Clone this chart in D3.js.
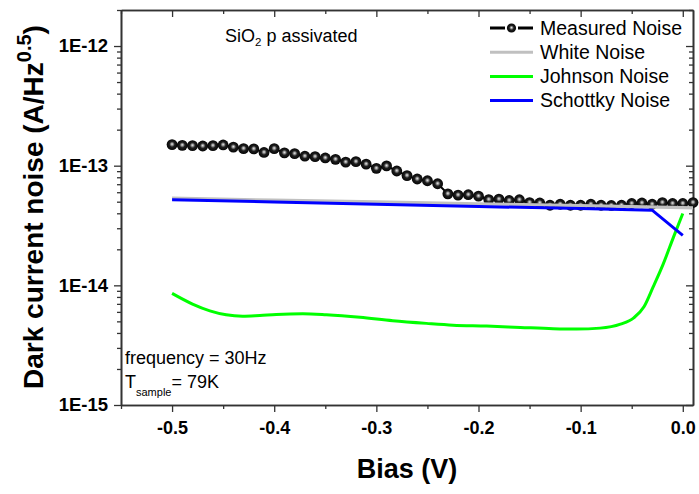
<!DOCTYPE html>
<html><head><meta charset="utf-8">
<script src="https://cdn.jsdelivr.net/npm/d3@7"></script>
<style>body{margin:0;background:#fff}svg{display:block;font-family:"Liberation Sans",Arial,sans-serif}</style>
</head><body>
<svg id="c" width="699" height="494"></svg>
<script>
// ---- data ----
const measuredBias = [-0.50,-0.49,-0.48,-0.47,-0.46,-0.45,-0.44,-0.43,-0.42,-0.41,-0.40,-0.39,-0.38,-0.37,-0.36,-0.35,-0.34,-0.33,-0.32,-0.31,-0.30,-0.29,-0.28,-0.27,-0.26,-0.25,-0.24,-0.23,-0.22,-0.21,-0.20,-0.19,-0.18,-0.17,-0.16,-0.15,-0.14,-0.13,-0.12,-0.11,-0.10,-0.09,-0.08,-0.07,-0.06,-0.05,-0.04,-0.03,-0.02,-0.01,0.00,0.01];
const measuredNoise = [1.50e-13,1.48e-13,1.47e-13,1.46e-13,1.47e-13,1.49e-13,1.43e-13,1.39e-13,1.38e-13,1.29e-13,1.39e-13,1.28e-13,1.26e-13,1.20e-13,1.19e-13,1.16e-13,1.13e-13,1.07e-13,1.08e-13,1.03e-13,9.5e-14,9.95e-14,9.03e-14,8.26e-14,7.74e-14,7.48e-14,7.06e-14,5.82e-14,5.68e-14,5.72e-14,5.56e-14,5.21e-14,5.25e-14,5.12e-14,5.19e-14,4.92e-14,4.88e-14,4.67e-14,4.76e-14,4.67e-14,4.67e-14,4.76e-14,4.67e-14,4.65e-14,4.67e-14,4.83e-14,4.88e-14,4.76e-14,4.92e-14,4.83e-14,4.83e-14,4.92e-14];
const whiteBias = [-0.5,-0.4,-0.3,-0.2,-0.1,0.0,0.01];
const whiteNoise = [5.35e-14,5.15e-14,4.98e-14,4.80e-14,4.63e-14,4.46e-14,4.44e-14];
const johnsonBias = [-0.500,-0.480,-0.463,-0.447,-0.431,-0.414,-0.398,-0.372,-0.349,-0.316,-0.284,-0.251,-0.225,-0.192,-0.159,-0.127,-0.104,-0.081,-0.061,-0.048,-0.038,-0.029,-0.019,-0.009,0.000];
const johnsonNoise = [8.56e-15,6.97e-15,6.12e-15,5.67e-15,5.53e-15,5.61e-15,5.71e-15,5.78e-15,5.67e-15,5.40e-15,5.06e-15,4.81e-15,4.65e-15,4.57e-15,4.45e-15,4.34e-15,4.31e-15,4.39e-15,4.74e-15,5.35e-15,6.62e-15,9.71e-15,1.52e-14,2.54e-14,3.98e-14];
const schottkyBias = [-0.5,-0.4,-0.3,-0.2,-0.1,-0.03,0.0];
const schottkyNoise = [5.19e-14,4.98e-14,4.76e-14,4.56e-14,4.38e-14,4.25e-14,2.62e-14];
const xTicks = [-0.5,-0.4,-0.3,-0.2,-0.1,0.0];
const xTickLabels = ["-0.5","-0.4","-0.3","-0.2","-0.1","0.0"];
const xMinorTicks = [-0.55,-0.45,-0.35,-0.25,-0.15,-0.05];
const yTicks = [1e-15,1e-14,1e-13,1e-12];
const yTickLabels = ["1E-15","1E-14","1E-13","1E-12"];
const yMinorTicks = [2e-15,3e-15,4e-15,5e-15,6e-15,7e-15,8e-15,9e-15,2e-14,3e-14,4e-14,5e-14,6e-14,7e-14,8e-14,9e-14,2e-13,3e-13,4e-13,5e-13,6e-13,7e-13,8e-13,9e-13,2e-12];
const legendLabels = ["Measured Noise","White Noise","Johnson Noise","Schottky Noise"];
const legendColors = ["#000000","#c0c0c0","#00ff00","#0000ff"];

// ---- layout ----
const FONT = "'Liberation Sans', Arial, sans-serif";
const L=121, R=693, T=10, B=405;
const svg = d3.select("#c");
const x = d3.scaleLinear().domain([-0.55,0.01]).range([L,R]);
const y = d3.scaleLog().domain([1e-15,2e-12]).range([B,T]);

const defs = svg.append("defs");
const g = defs.append("radialGradient").attr("id","ball").attr("cx","0.5").attr("cy","0.5").attr("r","0.55").attr("fx","0.5").attr("fy","0.45");
g.append("stop").attr("offset","0%").attr("stop-color","#e8e8e8");
g.append("stop").attr("offset","18%").attr("stop-color","#a0a0a0");
g.append("stop").attr("offset","45%").attr("stop-color","#1e1e1e");
g.append("stop").attr("offset","100%").attr("stop-color","#000");

const axCol = "#333";
function styleAxis(sel, fontSize){
  sel.select(".domain").attr("stroke",axCol).attr("stroke-width",1.6);
  sel.selectAll(".tick line").attr("stroke",axCol).attr("stroke-width",1.3);
  sel.selectAll("text").attr("fill","#000").attr("font-weight","bold").attr("font-size",fontSize).attr("font-family",FONT);
}
// bottom
const xa = svg.append("g").attr("transform",`translate(0,${B})`)
  .call(d3.axisBottom(x).tickValues(xTicks).tickFormat((d,i)=>xTickLabels[i]).tickSizeInner(7).tickSizeOuter(0).tickPadding(9));
styleAxis(xa,"18px");
const xam = svg.append("g").attr("transform",`translate(0,${B})`)
  .call(d3.axisBottom(x).tickValues(xMinorTicks).tickFormat("").tickSizeInner(4).tickSizeOuter(0));
styleAxis(xam,"0px");
// top
const xt = svg.append("g").attr("transform",`translate(0,${T})`)
  .call(d3.axisTop(x).tickValues(xTicks).tickFormat("").tickSizeInner(-7).tickSizeOuter(0));
styleAxis(xt,"0px");
const xtm = svg.append("g").attr("transform",`translate(0,${T})`)
  .call(d3.axisTop(x).tickValues(xMinorTicks).tickFormat("").tickSizeInner(-4).tickSizeOuter(0));
styleAxis(xtm,"0px");
// left
const ya = svg.append("g").attr("transform",`translate(${L},0)`)
  .call(d3.axisLeft(y).tickValues(yTicks).tickFormat((d,i)=>yTickLabels[i]).tickSizeInner(7).tickSizeOuter(0).tickPadding(6));
styleAxis(ya,"18.5px");
const yam = svg.append("g").attr("transform",`translate(${L},0)`)
  .call(d3.axisLeft(y).tickValues(yMinorTicks).tickFormat("").tickSizeInner(4).tickSizeOuter(0));
styleAxis(yam,"0px");
// right
const yr = svg.append("g").attr("transform",`translate(${R},0)`)
  .call(d3.axisRight(y).tickValues(yTicks).tickFormat("").tickSizeInner(-7).tickSizeOuter(0));
styleAxis(yr,"0px");
const yrm = svg.append("g").attr("transform",`translate(${R},0)`)
  .call(d3.axisRight(y).tickValues(yMinorTicks).tickFormat("").tickSizeInner(-4).tickSizeOuter(0));
styleAxis(yrm,"0px");

// ---- series ----
const line = d3.line().x(d=>x(d[0])).y(d=>y(d[1]));
const meas = measuredBias.map((b,i)=>[b,measuredNoise[i]]);
svg.append("path").attr("d",line(meas)).attr("fill","none").attr("stroke","#000").attr("stroke-width",2);
svg.append("g").selectAll("circle").data(meas).join("circle")
  .attr("cx",d=>x(d[0])).attr("cy",d=>y(d[1])).attr("r",5.4)
  .attr("fill","url(#ball)");
svg.append("path").attr("d",line(whiteBias.map((b,i)=>[b,whiteNoise[i]])))
  .attr("fill","none").attr("stroke","#c0c0c0").attr("stroke-width",3.2);
svg.append("path").attr("d",line.curve(d3.curveMonotoneX)(johnsonBias.map((b,i)=>[b,johnsonNoise[i]])))
  .attr("fill","none").attr("stroke","#00ff00").attr("stroke-width",3);
line.curve(d3.curveLinear);
svg.append("path").attr("d",line(schottkyBias.map((b,i)=>[b,schottkyNoise[i]])))
  .attr("fill","none").attr("stroke","#0000ff").attr("stroke-width",3);

// ---- legend ----
const leg = svg.append("g").attr("font-family",FONT);
legendLabels.forEach((lab,i)=>{
  const cy = 28 + i*24.2;
  leg.append("line").attr("x1",490).attr("x2",533).attr("y1",cy).attr("y2",cy)
    .attr("stroke",legendColors[i]).attr("stroke-width",3);
  if(i===0){
    leg.append("rect").attr("x",505).attr("y",cy-4).attr("width",13).attr("height",8).attr("fill","#fff");
    leg.append("circle").attr("cx",511.5).attr("cy",cy).attr("r",4.6).attr("fill","url(#ball)");
  }
  leg.append("text").attr("x",540).attr("y",cy+6.6).attr("font-size","19.5px").attr("fill","#000").text(lab);
});

// ---- annotations ----
const t1 = svg.append("text").attr("x",225).attr("y",42).attr("font-size","18px").attr("fill","#000").attr("font-family",FONT);
t1.append("tspan").text("SiO");
t1.append("tspan").attr("font-size","11.5px").attr("dy",4).text("2");
t1.append("tspan").attr("dy",-4).text(" p assivated");

svg.append("text").attr("x",125).attr("y",364).attr("font-size","18px").attr("fill","#000").attr("font-family",FONT).text("frequency = 30Hz");
const t2 = svg.append("text").attr("x",125).attr("y",388).attr("font-size","18px").attr("fill","#000").attr("font-family",FONT);
t2.append("tspan").text("T");
t2.append("tspan").attr("font-size","11px").attr("dy",8).text("sample");
t2.append("tspan").attr("dy",-8).text("= 79K");

// axis titles
svg.append("text").attr("x",(L+R)/2).attr("y",478).attr("text-anchor","middle").attr("font-family",FONT)
  .attr("font-size","27px").attr("font-weight","bold").attr("fill","#000").text("Bias (V)");
const yt = svg.append("text").attr("transform","translate(43,207) rotate(-90)").attr("text-anchor","middle").attr("font-family",FONT)
  .attr("font-size","28px").attr("font-weight","bold").attr("fill","#000");
yt.append("tspan").text("Dark current noise (A/Hz");
yt.append("tspan").attr("font-size","20px").attr("dy",-12).text("0.5");
yt.append("tspan").attr("dy",12).text(")");
</script>
</body></html>
